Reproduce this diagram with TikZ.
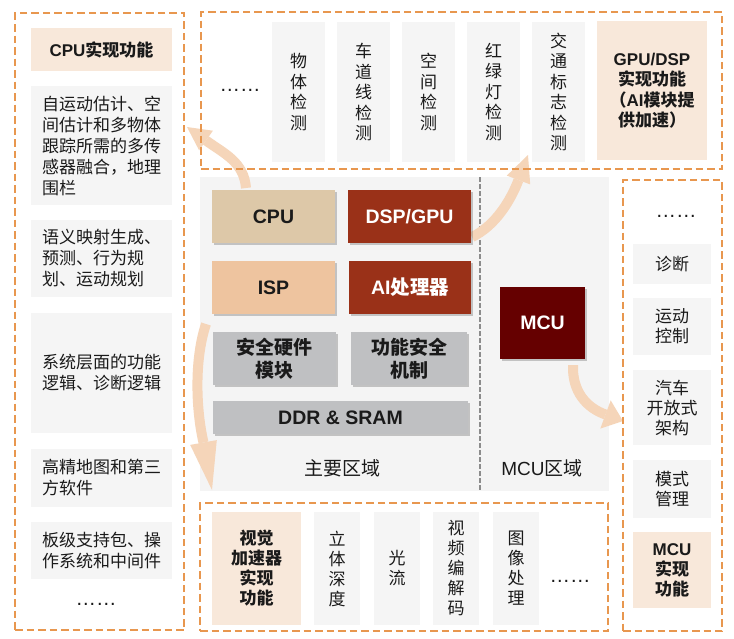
\documentclass[tikz,border=0pt]{standalone}
\usepackage{fontspec}
\setmainfont{Liberation Sans}
\newfontfamily\cjk{Noto Sans CJK SC}
\usetikzlibrary{arrows.meta,shadows}
\definecolor{dashor}{HTML}{E8974F}
\definecolor{itemgray}{HTML}{F5F5F5}
\definecolor{mainbg}{HTML}{F4F4F4}
\definecolor{peach}{HTML}{F8E8DA}
\definecolor{cpuc}{HTML}{DDC8A8}
\definecolor{ispc}{HTML}{EEC49F}
\definecolor{rust}{HTML}{9A3118}
\definecolor{mcuc}{HTML}{650000}
\definecolor{safegray}{HTML}{BFC0C2}
\definecolor{arrc}{HTML}{F5D5B9}
\definecolor{divgray}{HTML}{8C8C8C}
\definecolor{txt}{HTML}{1A1A1A}
\newcommand\zh[1]{{\cjk #1}}
\begin{document}
\begin{tikzpicture}[x=1pt,y=-1pt,
 every node/.style={inner sep=0pt,outer sep=0pt},
 frame/.style={draw=dashor,line width=2pt,dash pattern=on 7.5pt off 4pt},
 item/.style={fill=itemgray,text=txt,align=center,font=\cjk\fontsize{17}{20.5}\selectfont},
 litem/.style={item,align=left,minimum width=141pt,font=\cjk\fontsize{17}{21}\selectfont},
 hdr/.style={fill=peach,text=txt,align=center,font=\bfseries\fontsize{17}{20.5}\selectfont},
 chip/.style={drop shadow={shadow xshift=2pt,shadow yshift=-2pt,opacity=0.35,fill=black!60},font=\bfseries\fontsize{19.5}{23}\selectfont,align=center,text=txt},
 bigarr/.style={draw=arrc,line width=10pt},
 ahead/.style={fill=arrc},
 dots/.style={font=\fontsize{20.5}{21}\selectfont,text=txt},
]
\useasboundingbox[fill=white] (0,0) rectangle (734,638);

% main area
\node[fill=mainbg,minimum width=409pt,minimum height=314pt] (mainarea) at (404.5,334) {};
\coordinate (divtop) at (480,177);
\coordinate (divbot) at (480,491);
\draw[divgray,line width=1.6pt,dash pattern=on 5pt off 2pt] (divtop) -- (divbot);

% big arrows
\coordinate (a1s) at (246,188); \coordinate (a1m) at (206,140.5); \coordinate (a1t) at (187,127);
\draw[bigarr] (a1s) .. controls (244,162) and (224,153.5) .. (a1m);
\fill[ahead] (a1t) -- (212.9,130.7) -- (199.1,150.3) -- cycle;

\coordinate (a2s) at (472,237); \coordinate (a2m) at (518.5,180); \coordinate (a2t) at (528,155);
\draw[bigarr] (a2s) .. controls (495,226) and (510.5,201) .. (a2m);
\fill[ahead] (a2t) -- (530.2,184.4) -- (506.8,175.6) -- cycle;

\coordinate (a3s) at (573,365); \coordinate (a3m) at (605.5,414.5); \coordinate (a3t) at (623,421);
\draw[bigarr] (a3s) .. controls (572,392) and (587,408) .. (a3m);
\fill[ahead] (a3t) -- (600.3,428.6) -- (610.7,400.4) -- cycle;

\coordinate (a4s) at (206,324); \coordinate (a4m) at (203.5,442.5); \coordinate (a4t) at (212,490);
\draw[bigarr] (a4s) .. controls (194,360) and (196,410) .. (a4m);
\fill[ahead] (a4t) -- (190.2,444.9) -- (216.8,440.1) -- cycle;

% frames
\node[frame,minimum width=169pt,minimum height=617pt] (leftframe) at (99.5,321.5) {};
\node[frame,minimum width=521pt,minimum height=157pt] (topframe) at (461.5,90.5) {};
\node[frame,minimum width=99pt,minimum height=451pt] (rightframe) at (672.5,405.5) {};
\node[frame,minimum width=408pt,minimum height=128pt] (botframe) at (404,567) {};

% left column
\node[hdr,minimum width=141pt,minimum height=43pt] (lhdr) at (101.5,49.5) {CPU\zh{实现功能}};
\node[litem,minimum height=119pt] (l1) at (101.5,145.5) {自运动估计、空\\间估计和多物体\\跟踪所需的多传\\感器融合，地理\\围栏};
\node[litem,minimum height=77pt] (l2) at (101.5,258.5) {语义映射生成、\\预测、行为规\\划、运动规划};
\node[litem,minimum height=120pt] (l3) at (101.5,373) {系统层面的功能\\逻辑、诊断逻辑};
\node[litem,minimum height=58pt] (l4) at (101.5,478) {高精地图和第三\\方软件};
\node[litem,minimum height=57pt] (l5) at (101.5,550.5) {板级支持包、操\\作系统和中间件};
\node[dots] (ldots) at (96,604) {……};

% top row
\node[dots] (tdots) at (240,90) {……};
\node[item,minimum width=53pt,minimum height=140pt] (t1) at (298.5,92) {物\\体\\检\\测};
\node[item,minimum width=53pt,minimum height=140pt] (t2) at (363.5,92) {车\\道\\线\\检\\测};
\node[item,minimum width=53pt,minimum height=140pt] (t3) at (428.5,92) {空\\间\\检\\测};
\node[item,minimum width=53pt,minimum height=140pt] (t4) at (493.5,92) {红\\绿\\灯\\检\\测};
\node[item,minimum width=53pt,minimum height=140pt] (t5) at (558.5,92) {交\\通\\标\\志\\检\\测};
\node[hdr,minimum width=110pt,minimum height=139pt] (thdr) at (652,90.5) {GPU/DSP\\\zh{实现功能}\\\zh{（}AI\zh{模块提}\\\zh{供加速）}};

% chips
\node[chip,fill=cpuc,minimum width=123pt,minimum height=53pt] (cpu) at (273.5,216.5) {CPU};
\node[chip,fill=rust,text=white,minimum width=123pt,minimum height=53pt] (dsp) at (409.5,216.5) {DSP/GPU};
\node[chip,fill=ispc,minimum width=123pt,minimum height=53pt] (isp) at (273.5,287.5) {ISP};
\node[chip,fill=rust,text=white,minimum width=122pt,minimum height=53pt] (ai) at (410,287.5) {AI\zh{处理器}};
\node[chip,fill=safegray,minimum width=123pt,minimum height=53pt,font=\cjk\bfseries\fontsize{19}{23}\selectfont] (safehw) at (274.5,358.5) {安全硬件\\模块};
\node[chip,fill=safegray,minimum width=116pt,minimum height=53pt,font=\cjk\bfseries\fontsize{19}{23}\selectfont] (funcsafe) at (409,358.5) {功能安全\\机制};
\node[chip,fill=safegray,minimum width=255pt,minimum height=33pt] (ddr) at (340.5,417.5) {DDR \& SRAM};
\node[chip,fill=mcuc,text=white,minimum width=85pt,minimum height=72pt] (mcu) at (542.5,323) {MCU};
\node[font=\cjk\fontsize{19}{22}\selectfont,text=txt] (lblmain) at (342,468) {主要区域};
\node[font=\fontsize{19}{22}\selectfont,text=txt] (lblmcu) at (542,468) {MCU\zh{区域}};

% right column
\node[dots] (rdots) at (676,216) {……};
\node[item,minimum width=78pt,minimum height=40pt,font=\cjk\fontsize{17}{20}\selectfont] (r1) at (672,264) {诊断};
\node[item,minimum width=78pt,minimum height=57pt,font=\cjk\fontsize{17}{20}\selectfont] (r2) at (672,326.5) {运动\\控制};
\node[item,minimum width=78pt,minimum height=75pt,font=\cjk\fontsize{17}{20}\selectfont] (r3) at (672,407.5) {汽车\\开放式\\架构};
\node[item,minimum width=78pt,minimum height=58pt,font=\cjk\fontsize{17}{20}\selectfont] (r4) at (672,489) {模式\\管理};
\node[hdr,minimum width=78pt,minimum height=76pt,font=\bfseries\fontsize{17}{20}\selectfont] (rhdr) at (672,570) {MCU\\\zh{实现}\\\zh{功能}};

% bottom row
\node[hdr,minimum width=89pt,minimum height=113pt,font=\cjk\bfseries\fontsize{17}{20}\selectfont] (bhdr) at (256.5,568.5) {视觉\\加速器\\实现\\功能};
\node[item,minimum width=46pt,minimum height=113pt,font=\cjk\fontsize{17}{20}\selectfont] (b1) at (337,568.5) {立\\体\\深\\度};
\node[item,minimum width=46pt,minimum height=113pt,font=\cjk\fontsize{17}{20}\selectfont] (b2) at (397,568.5) {光\\流};
\node[item,minimum width=46pt,minimum height=113pt,font=\cjk\fontsize{17}{20}\selectfont] (b3) at (456,568.5) {视\\频\\编\\解\\码};
\node[item,minimum width=46pt,minimum height=113pt,font=\cjk\fontsize{17}{20}\selectfont] (b4) at (516,568.5) {图\\像\\处\\理};
\node[dots] (bdots) at (570,581) {……};
\end{tikzpicture}
\end{document}
